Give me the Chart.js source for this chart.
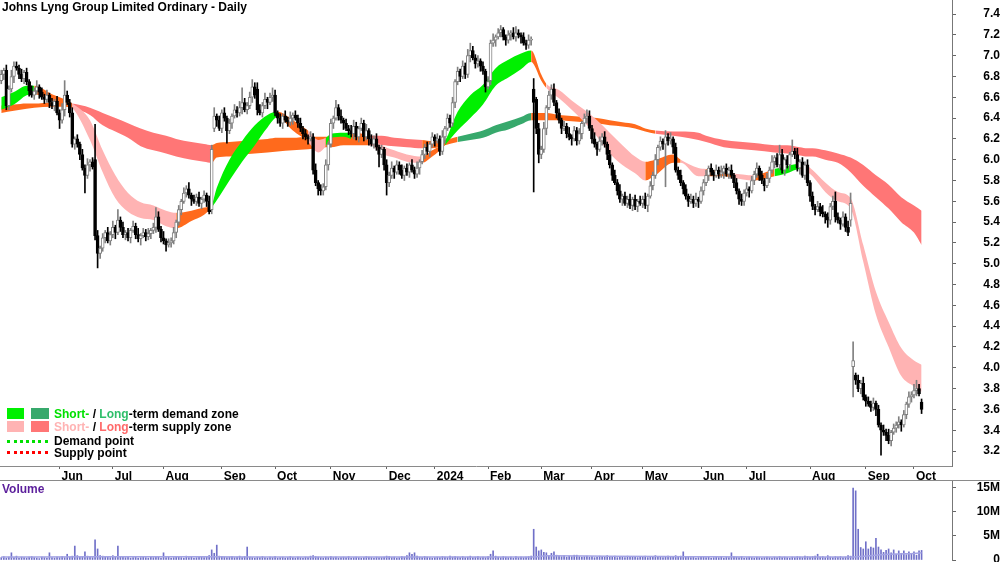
<!DOCTYPE html>
<html>
<head>
<meta charset="utf-8">
<title>Johns Lyng Group Limited Ordinary - Daily</title>
<script src="https://cdn.jsdelivr.net/npm/chart.js@4.4.1/dist/chart.umd.min.js"></script>
<style>
  body { margin: 0; background: #fff; }
  #wrap { position: relative; width: 1000px; height: 562px; overflow: hidden;
          font-family: "Liberation Sans", Arial, sans-serif; font-size: 12px; font-weight: bold; color: #000; }
  canvas { position: absolute; left: 0; }
  #pc { top: 0; }
  #vc { top: 481px; }
  .abs { position: absolute; line-height: 14px; white-space: nowrap; }
  .box { position: absolute; height: 11px; }
  .dots { position: absolute; width: 41px; height: 0; border-top: 3px dotted; }
  .hl { position: absolute; left: 0; width: 1000px; height: 1px; background: #8a8a8a; }
</style>
</head>
<body>
<div id="wrap">
  <canvas id="pc" width="1000" height="481"></canvas>
  <canvas id="vc" width="1000" height="81"></canvas>
  <div class="hl" style="top:480px"></div>

  <div class="abs" style="left:2px;top:0px">Johns Lyng Group Limited Ordinary - Daily</div>

  <div class="box" style="left:7px;top:408px;width:17px;background:#00f000"></div>
  <div class="box" style="left:31px;top:408px;width:18px;background:#37a96c"></div>
  <div class="abs" style="left:54px;top:407px"><span style="color:#00e000">Short-</span> / <span style="color:#2fbf6a">Long</span>-term demand zone</div>
  <div class="box" style="left:7px;top:421px;width:17px;background:#ffb3b3"></div>
  <div class="box" style="left:31px;top:421px;width:18px;background:#ff7676"></div>
  <div class="abs" style="left:54px;top:420px"><span style="color:#ffb3b3">Short-</span> / <span style="color:#ff6a6a">Long</span>-term supply zone</div>
  <div class="dots" style="left:7px;top:440px;border-color:#00e000"></div>
  <div class="abs" style="left:54px;top:434px">Demand point</div>
  <div class="dots" style="left:7px;top:451px;border-color:#ff0000"></div>
  <div class="abs" style="left:54px;top:446px">Supply point</div>

  <div class="abs" style="left:2px;top:482px;color:#5b1e9b">Volume</div>
</div>

<script>
// trading-day index of the first bar of each month, and its label
const monthTicks = [23, 44, 64, 87, 108, 130, 152, 171, 192, 213, 233, 253, 276, 294, 319, 341, 360];
const monthLabels = ['Jun', 'Jul', 'Aug', 'Sep', 'Oct', 'Nov', 'Dec', '2024', 'Feb', 'Mar', 'Apr', 'May', 'Jun', 'Jul', 'Aug', 'Sep', 'Oct'];
const priceTicks = [3.2, 3.4, 3.6, 3.8, 4.0, 4.2, 4.4, 4.6, 4.8, 5.0, 5.2, 5.4, 5.6, 5.8, 6.0, 6.2, 6.4, 6.6, 6.8, 7.0, 7.2, 7.4];
const volTicks = [0, 5, 10, 15];

// daily prices in cents
const openC = [
  676,682,686,652,668,680,690,688,682,678, 684,675,666,662,666,670,665,660,658,662,
  655,652,656,645,638,648,662,655,645,615, 620,615,605,592,585,595,598,600,527,510,
  515,525,530,522,528,535,530,542,535,528, 530,525,532,536,528,524,527,530,526,529,
  532,535,545,533,525,522,518,520,522,530, 540,552,560,568,572,566,562,560,564,558,
  562,566,560,552,630,642,638,630,645,640, 628,635,642,648,645,650,655,648,652,660,
  670,668,648,645,652,658,655,660,662,645, 640,635,642,638,636,640,643,640,635,630,
  625,622,620,622,590,578,572,570,574,595, 615,635,640,650,642,638,635,630,628,625,
  632,622,630,635,622,628,620,615,620,612, 605,610,595,578,585,592,588,595,590,585,
  592,588,595,590,586,592,598,605,612,608, 615,622,618,620,608,622,630,640,635,655,
  675,685,680,690,682,700,705,698,692,695, 690,685,670,676,712,715,718,722,725,718,
  715,720,722,718,722,720,718,712,710,715, 668,658,630,605,610,630,650,662,668,655,
  645,638,630,632,625,622,620,628,618,625, 635,640,642,630,620,615,610,618,622,615,
  605,595,585,578,570,562,565,558,562,556, 562,555,560,558,562,556,565,575,585,600,
  612,618,615,622,618,620,612,590,585,578, 572,565,560,562,558,562,560,570,578,585,
  592,588,585,590,586,588,592,586,590,585, 578,570,562,560,568,572,570,580,586,592,
  585,580,575,582,590,598,602,595,605,590, 600,595,605,608,605,592,598,585,595,578,
  565,555,552,555,550,548,545,542,555,560, 545,542,538,545,535,542,401,393,388,380,
  385,372,368,365,362,366,360,345,340,338, 335,330,338,342,345,348,345,355,365,372,
  374,378,380,367
];
const highC = [
  686,688,691,671,686,694,694,691,687,686, 688,677,671,669,676,672,669,663,667,664,
  659,658,661,648,654,676,666,658,650,622, 624,617,610,595,601,600,602,634,532,517,
  529,532,535,531,541,537,552,545,540,532, 534,534,541,539,534,529,534,533,534,534,
  539,554,550,536,531,524,524,525,535,542, 556,562,573,575,578,568,566,567,569,564,
  570,568,565,614,650,644,642,648,650,642, 639,644,653,651,656,669,659,655,665,677,
  674,674,653,655,664,660,664,669,667,647, 644,644,647,641,646,645,647,643,640,632,
  629,624,627,625,596,580,576,577,600,617, 639,642,657,653,648,640,639,633,633,638,
  636,632,640,638,634,630,624,623,625,614, 614,612,600,588,598,594,599,598,595,594,
  596,597,600,593,598,600,609,615,617,617, 626,624,625,623,628,632,644,643,660,677,
  689,687,695,693,706,712,709,701,700,697, 694,687,680,715,721,720,726,729,727,720,
  724,724,727,728,725,722,722,715,720,718, 678,660,635,613,636,652,666,672,673,657,
  649,640,637,635,631,624,632,631,630,637, 644,648,647,633,626,617,622,625,627,617,
  609,597,590,581,576,567,569,565,567,564, 566,562,565,565,568,567,579,588,605,614,
  622,620,628,625,626,622,616,593,590,580, 576,567,567,565,568,564,574,581,590,594,
  596,590,595,593,594,594,596,593,595,587, 582,572,567,571,578,574,584,589,597,594,
  589,582,587,593,604,604,606,614,610,602, 604,607,619,611,611,600,602,598,600,580,
  569,557,560,558,556,550,549,558,565,569, 549,544,550,548,541,568,425,395,393,388,
  391,374,372,368,371,368,364,347,345,341, 341,340,346,348,353,350,359,367,377,377,
  384,388,384,370
];
const lowC = [
  673,677,648,648,665,674,686,678,675,673, 672,661,660,658,663,659,658,654,655,650,
  649,647,643,630,635,642,653,641,612,610, 612,600,590,568,582,589,591,523,496,505,
  512,520,520,518,525,524,528,531,525,523, 522,520,530,524,521,518,525,522,523,524,
  529,530,531,521,519,512,516,516,519,525, 537,547,558,564,563,556,558,556,555,553,
  559,555,548,548,627,632,628,626,637,616, 625,630,640,641,642,644,646,644,649,655,
  659,643,643,641,649,649,653,656,642,635, 632,630,636,632,633,634,638,631,627,620,
  619,615,618,586,575,566,566,566,571,590, 612,630,638,638,635,629,628,624,622,620,
  619,617,628,618,619,614,613,611,609,593, 602,590,566,574,582,582,586,586,582,580,
  585,583,588,582,583,586,596,601,605,603, 612,613,616,604,605,616,628,631,632,650,
  672,675,678,678,679,694,696,688,689,685, 682,665,668,672,709,709,716,718,715,710,
  712,715,716,714,717,712,710,706,707,710, 569,625,597,601,607,624,648,658,652,640,
  635,625,628,621,619,614,618,614,615,620, 632,635,628,616,612,604,608,614,612,600,
  592,580,576,566,559,556,556,554,553,551, 552,550,556,554,553,550,563,571,582,595,
  609,610,574,614,615,606,588,581,575,567, 562,555,558,554,555,554,558,566,575,580,
  585,580,583,582,583,582,584,582,582,573, 567,557,556,556,565,564,568,576,583,580,
  577,570,573,578,587,592,593,591,587,585, 592,590,603,601,589,586,583,581,575,560,
  552,547,550,546,545,539,535,538,552,540, 539,533,536,531,527,536,372,384,377,375,
  369,363,363,358,359,354,343,316,335,330, 327,325,336,338,342,339,343,351,362,367,
  371,373,373,356
];
const closeC = [
  682,686,652,668,680,690,688,682,678,684, 675,666,662,666,670,665,660,658,662,655,
  652,656,645,638,648,662,655,645,615,620, 615,605,592,585,595,598,593,527,510,515,
  525,530,522,528,535,530,542,535,528,530, 525,532,536,528,524,527,530,526,529,532,
  535,545,533,525,522,518,520,522,530,540, 552,560,568,572,566,562,560,564,558,562,
  566,560,550,610,642,638,630,645,640,628, 635,642,648,645,650,655,648,652,660,670,
  662,648,645,652,658,655,660,662,645,640, 635,642,638,636,640,643,640,635,630,625,
  622,620,622,590,578,572,570,574,595,615, 635,640,650,642,638,635,630,628,625,632,
  622,630,635,622,628,620,615,620,612,605, 610,595,578,585,592,588,595,590,585,592,
  588,595,590,586,592,598,605,612,608,615, 622,618,620,608,622,630,640,635,655,675,
  685,680,690,682,700,705,698,692,695,690, 685,670,675,712,715,718,722,725,718,715,
  720,722,718,722,720,718,712,710,715,716, 655,630,605,610,630,650,662,668,655,645,
  638,630,632,625,622,620,628,618,625,635, 640,642,630,620,615,610,618,622,615,605,
  595,585,578,570,562,565,558,562,556,562, 555,560,558,562,556,565,575,585,600,612,
  618,615,622,618,620,612,590,585,578,572, 565,560,562,558,562,560,570,578,585,592,
  588,585,590,586,588,592,586,590,585,578, 570,562,560,568,572,570,580,586,592,585,
  580,575,582,590,598,602,595,605,590,600, 595,605,608,605,592,598,585,595,578,565,
  555,552,555,550,548,545,542,555,560,545, 542,538,545,535,530,558,407,388,380,385,
  372,368,365,362,366,360,345,340,338,335, 330,338,342,345,348,345,355,365,372,374,
  378,380,375,360
];
// daily volume in units of 100,000 shares
const volume = [
  5,7,4,6,15,5,8,4,6,5, 4,6,7,5,4,3,6,5,4,15, 5,4,6,5,7,5,12,6,8,29, 9,6,7,17,8,6,5,42,23,9,
  8,6,7,5,9,6,29,7,6,5, 6,4,5,7,4,5,6,5,4,6, 5,7,6,4,15,5,6,4,5,7, 6,5,4,8,5,6,4,5,7,6,
  5,6,9,21,14,31,8,7,6,5, 6,7,5,6,8,5,7,27,6,5, 4,6,5,7,5,4,6,5,7,4, 5,6,4,5,7,5,4,6,5,4,
  6,5,8,9,7,6,5,4,6,5, 7,5,6,4,5,6,5,7,4,5, 6,5,4,5,7,6,5,4,6,5, 5,6,8,7,5,6,4,5,7,6,
  9,15,12,15,8,6,5,7,6,5, 4,5,6,5,7,6,5,8,6,7, 6,5,7,5,6,8,5,6,7,5, 6,5,7,12,19,8,6,5,7,6,
  5,6,4,7,5,6,5,6,7,8, 64,27,19,21,16,15,9,14,17,10, 8,7,9,6,8,7,10,10,7,6, 7,8,6,7,5,6,8,7,6,9,
  7,6,8,5,7,6,5,8,6,7, 6,5,7,6,8,5,6,7,9,6, 7,5,6,8,6,7,9,6,8,17, 7,6,5,6,4,5,7,6,5,6,
  4,5,6,5,7,4,6,5,15,7, 6,5,7,4,5,6,5,4,6,5, 4,5,6,5,4,6,5,7,5,6, 5,4,6,5,7,6,5,8,7,6,
  7,8,12,6,7,5,9,6,5,7, 6,7,5,6,9,8,150,144,64,26, 23,38,23,27,25,45,27,21,16,20,
  23,15,21,12,19,14,19,11,17,13, 17,10,19,20
];
// volume average line, sampled at a few bars (units of 100,000)
const volAvgIdx = [0, 40, 80, 120, 160, 200, 209, 215, 240, 270, 300, 330, 335, 340, 345, 350, 357, 363];
const volAvg = [6, 7, 7, 6, 6, 6, 6, 9, 8, 7, 6, 6, 6, 8, 10, 12, 13, 15];

// demand / supply zones, sampled at these bar indices (cents)
const bandIdx = [0,5,10,13,20,25,28,35,40,45, 50,55,60,65,69,75,80,83,85,90, 95,100,105,109,115,121,125,128,130,135,
  138,145,150,155,160,166,170,175,180,185, 190,195,200,205,209,213,215,220,225,230, 235,240,245,250,254,258,265,268,275,278,
  285,288,297,305,310,315,318,320,325,330, 335,340,345,350,355,360,363];
const shortHi = [660,665,671,671,663,658,654,638,609,585, 568,559,556,551,549,551,554,557,573,600, 618,633,643,646,638,628,619,621,625,626,
  626,623,614,609,605,603,609,618,646,662, 672,688,696,702,705,682,673,667,657,648, 638,626,614,603,598,600,605,600,592,591,
  588,587,585,591,594,596,594,590,578,569, 563,518,473,444,419,407,403];
const shortLo = [648,653,662,663,657,653,650,619,588,563, 550,544,542,536,534,541,547,554,561,580, 598,614,631,641,628,617,607,613,621,622,
  620,616,606,602,598,597,603,614,628,640, 653,671,679,687,694,676,669,659,648,636, 622,606,595,587,580,585,597,597,584,584,
  584,583,580,584,587,591,588,584,569,560, 553,502,451,420,392,382,377];
const shortZone = 'GGGOOOPPPPPPPPOOOGGGGGGOOPPGGGOPPPPOOGGGGGGGOOPPPPPPPPOOOPPOOPOGGOPPPPPPPPPPP';
const longHi = [652,653,654,654,655,655,654,650,645,640, 635,630,626,623,620,617,615,614,616,617, 618,619,620,621,621,622,622,622,623,624,
  624,623,623,621,620,619,618,619,622,625, 628,633,637,641,645,645,645,643,642,641, 640,638,636,634,630,628,627,627,626,623,
  619,618,616,614,614,612,611,611,609,606, 602,595,585,576,564,556,551];
const longLo = [645,647,649,650,651,651,650,643,633,627, 621,613,609,606,603,600,598,597,602,603, 605,606,607,608,609,610,611,612,612,614,
  614,614,614,613,612,611,611,614,617,619, 621,626,629,634,638,638,638,638,637,636, 635,633,632,630,627,625,623,622,619,617,
  612,611,609,607,606,604,603,603,600,597, 588,575,564,553,540,530,518];
const longZone = 'OOOOOORRRRRRRRRRROOOOOOOOOOOOOORRRROOODDDDDDOOOOOOOOOOORRRRRRRRRRRRRRRRRRRRRR';

const zoneColor = { G: '#00f000', P: '#ffb3b3', O: '#ff6a1c', D: '#37a96c', R: '#ff7676' };
const axisFont = { family: '"Liberation Sans", Arial, sans-serif', size: 12, weight: 'bold' };
const lastX = 375;

function zoneBand(hi, lo, zones, order) {
  const line = {
    type: 'line', order, pointRadius: 0, borderWidth: 0, borderColor: 'rgba(0,0,0,0)',
    cubicInterpolationMode: 'monotone'
  };
  return [
    Object.assign({}, line, {
      data: bandIdx.map((x, k) => ({ x, y: hi[k] / 100 })),
      fill: '+1',
      backgroundColor: zoneColor[zones[0]],
      segment: { backgroundColor: c => zoneColor[zones[c.p0DataIndex]] }
    }),
    Object.assign({}, line, {
      data: bandIdx.map((x, k) => ({ x, y: lo[k] / 100 })),
      fill: false
    })
  ];
}

const isUp = closeC.map((c, i) => c >= openC[i]);

new Chart(document.getElementById('pc'), {
  type: 'bar',
  data: {
    datasets: [
      ...zoneBand(longHi, longLo, longZone, 6),
      ...zoneBand(shortHi, shortLo, shortZone, 5),
      {
        // wicks
        type: 'bar', order: 2, grouped: false, barThickness: 1,
        data: closeC.map((c, i) => ({ x: i, y: [lowC[i] / 100, highC[i] / 100] })),
        backgroundColor: isUp.map(u => u ? '#808080' : '#000')
      },
      {
        // bodies
        type: 'bar', order: 1, grouped: false, barThickness: 3,
        data: closeC.map((c, i) => ({ x: i, y: [openC[i] / 100, c / 100] })),
        backgroundColor: isUp.map(u => u ? '#fff' : '#000'),
        borderColor: isUp.map(u => u ? '#808080' : '#000'),
        borderWidth: 1, borderSkipped: false
      }
    ]
  },
  options: {
    responsive: false, animation: false, events: [],
    layout: { padding: 0 },
    plugins: { legend: { display: false }, tooltip: { enabled: false } },
    scales: {
      x: {
        type: 'linear', min: -0.5, max: lastX, offset: false,
        grid: { drawOnChartArea: false, offset: false, tickLength: 3, tickColor: '#666' },
        border: { color: '#8a8a8a' },
        afterBuildTicks: s => { s.ticks = monthTicks.map(v => ({ value: v })); },
        ticks: {
          autoSkip: false, maxRotation: 0, minRotation: 0, align: 'start', labelOffset: 2, padding: 0,
          color: '#000', font: axisFont,
          callback: v => monthLabels[monthTicks.indexOf(v)]
        },
        afterFit: s => { s.height = 15; s.paddingLeft = 0; s.paddingRight = 0; }
      },
      y: {
        position: 'right', min: 3.056, max: 7.535,
        grid: { drawOnChartArea: false, tickLength: 4, tickColor: '#666' },
        border: { color: '#777' },
        afterBuildTicks: s => { s.ticks = priceTicks.map(v => ({ value: v })); },
        ticks: { crossAlign: 'far', color: '#000', font: axisFont, callback: v => v.toFixed(1) },
        afterFit: s => { s.width = 48; s.paddingTop = 0; s.paddingBottom = 0; }
      }
    }
  }
});

new Chart(document.getElementById('vc'), {
  type: 'bar',
  data: {
    datasets: [
      {
        type: 'bar', order: 1, grouped: false, barThickness: 1,
        data: volume.map((v, i) => ({ x: i, y: v / 10 })),
        backgroundColor: '#7070c8'
      },
      {
        type: 'line', order: 0, pointRadius: 0, borderWidth: 1.5, borderColor: '#a4a4e4',
        cubicInterpolationMode: 'monotone',
        data: volAvgIdx.map((x, k) => ({ x, y: volAvg[k] / 10 }))
      }
    ]
  },
  options: {
    responsive: false, animation: false, events: [],
    layout: { padding: { bottom: 2 } },
    plugins: { legend: { display: false }, tooltip: { enabled: false } },
    scales: {
      x: { type: 'linear', min: -0.5, max: lastX, offset: false, display: false },
      y: {
        position: 'right', min: 0, max: 16.45,
        grid: { drawOnChartArea: false, tickLength: 4, tickColor: '#666' },
        border: { color: '#777' },
        afterBuildTicks: s => { s.ticks = volTicks.map(v => ({ value: v })); },
        ticks: { crossAlign: 'far', color: '#000', font: axisFont, callback: v => v === 0 ? '0' : v + 'M' },
        afterFit: s => { s.width = 48; s.paddingTop = 0; s.paddingBottom = 0; }
      }
    }
  }
});
</script>
</body>
</html>
